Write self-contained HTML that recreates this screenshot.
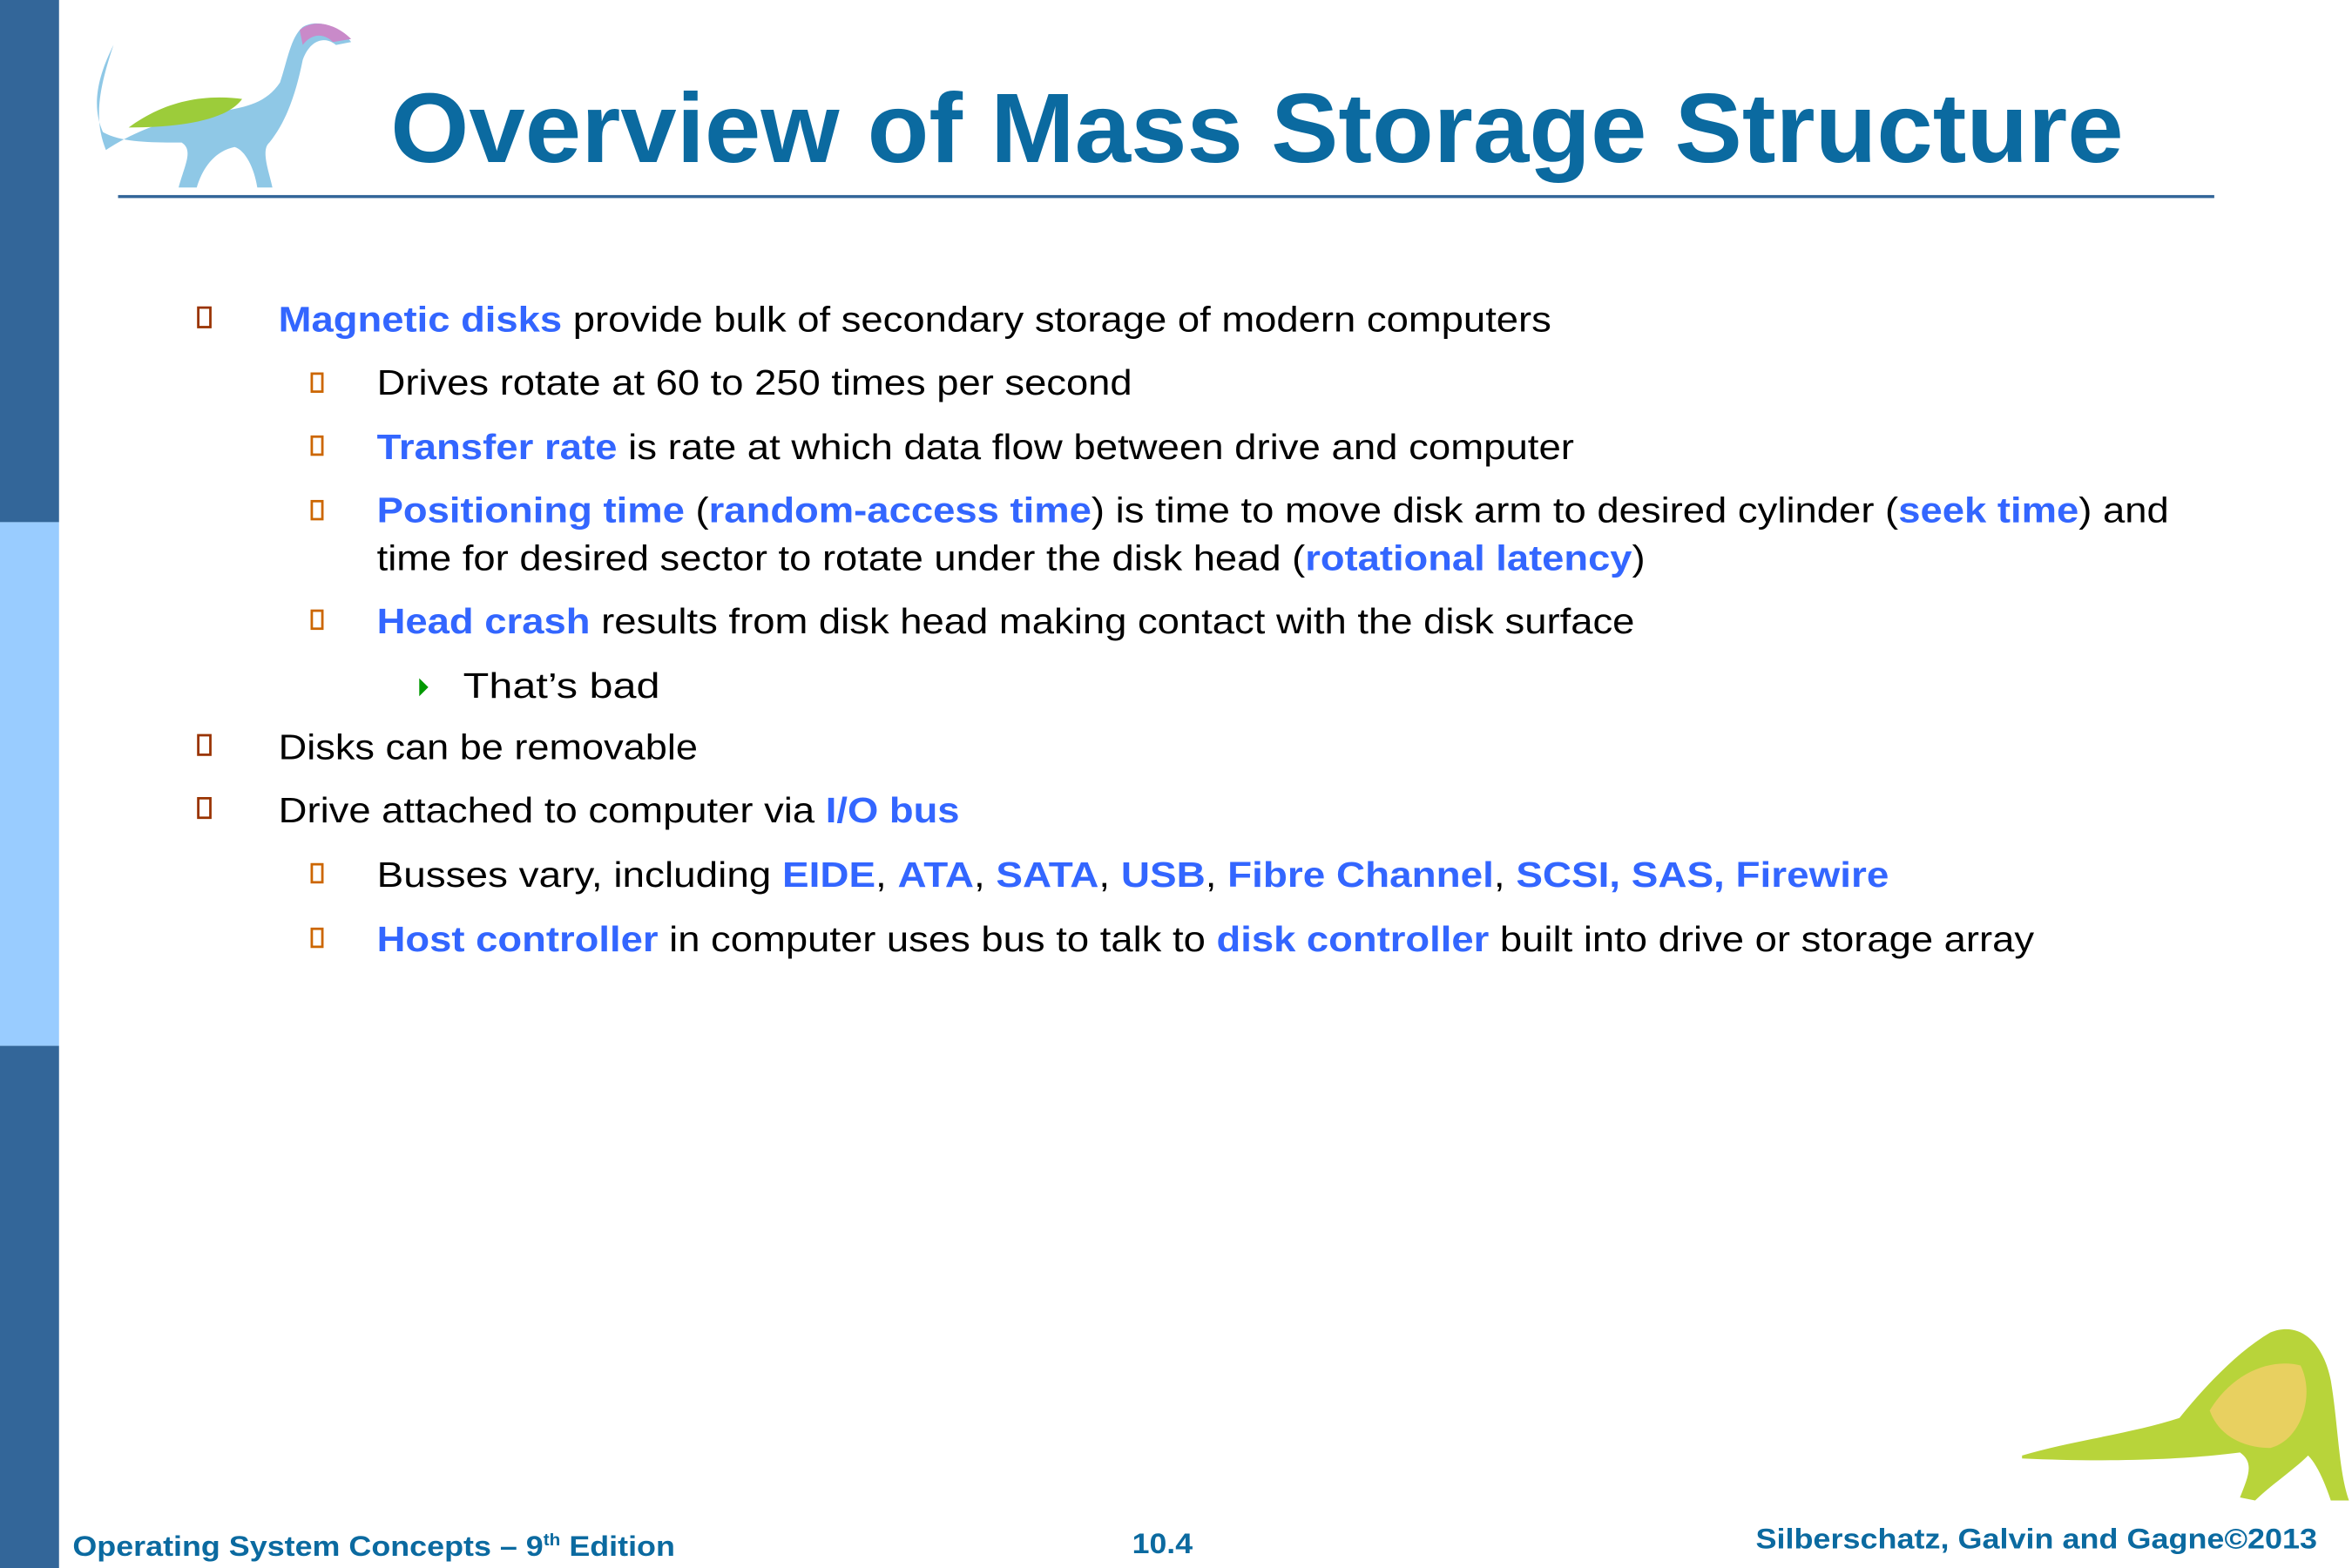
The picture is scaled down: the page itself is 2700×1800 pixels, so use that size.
<!DOCTYPE html>
<html><head><meta charset="utf-8"><style>
html,body{margin:0;padding:0;background:#fff;width:2700px;height:1800px;overflow:hidden}
svg{display:block}
text{font-family:"Liberation Sans",Arial,sans-serif}
.b{fill:#3366ff;font-weight:bold}
.t{font-size:23.5px;fill:#000}
</style></head><body>
<svg width="2700" height="1800" viewBox="0 0 1554 1045" preserveAspectRatio="none">
<rect x="0" y="0" width="39" height="348" fill="#336699"/>
<rect x="0" y="348" width="39" height="349" fill="#99ccff"/>
<rect x="0" y="697" width="39" height="348" fill="#336699"/>
<!-- top dino -->
<g>
<path d="M75 30 C65 60 62 80 70 100 C85 90 110 78 140 75 C160 72 175 70 185 55 C190 40 192 25 200 18 C210 12 225 18 232 28 L222 30 C215 24 205 26 200 40 C196 60 190 80 178 95 C172 100 178 115 180 125 L170 125 C168 112 162 100 155 98 C145 100 135 108 130 125 L118 125 C122 110 128 100 120 95 C100 95 80 95 68 88 C60 70 65 50 75 30 Z" fill="#8fc8e6"/>
<path d="M85 85 C105 70 130 62 160 66 C150 80 120 85 85 85 Z" fill="#9ccc3a"/>
<path d="M198 20 C208 12 222 16 232 26 L220 28 C214 22 206 22 200 30 Z" fill="#c98ac9"/>
</g>
<text x="258" y="108" font-size="66" font-weight="bold" fill="#0b6aa0" textLength="1145" lengthAdjust="spacingAndGlyphs">Overview of Mass Storage Structure</text>
<rect x="78" y="130" width="1385" height="2" fill="#336699"/>
<!-- bullets -->
<g fill="none" stroke-width="1.6">
<rect x="131" y="205" width="8" height="13" stroke="#993300"/>
<rect x="131" y="490" width="8" height="13" stroke="#993300"/>
<rect x="131" y="532" width="8" height="13" stroke="#993300"/>
<g stroke="#cc6600">
<rect x="206" y="249" width="7" height="12"/>
<rect x="206" y="291" width="7" height="12"/>
<rect x="206" y="334" width="7" height="12"/>
<rect x="206" y="407" width="7" height="12"/>
<rect x="206" y="576" width="7" height="12"/>
<rect x="206" y="619" width="7" height="12"/>
</g>
</g>
<path d="M277 452 L283 458 L277 464 Z" fill="#009900"/>
<g class="t">
<text x="184" y="221" textLength="841" lengthAdjust="spacingAndGlyphs"><tspan class="b">Magnetic disks</tspan> provide bulk of secondary storage of modern computers</text>
<text x="249" y="263" textLength="499" lengthAdjust="spacingAndGlyphs">Drives rotate at 60 to 250 times per second</text>
<text x="249" y="306" textLength="791" lengthAdjust="spacingAndGlyphs"><tspan class="b">Transfer rate</tspan> is rate at which data flow between drive and computer</text>
<text x="249" y="348" textLength="1184" lengthAdjust="spacingAndGlyphs"><tspan class="b">Positioning time</tspan> (<tspan class="b">random-access time</tspan>) is time to move disk arm to desired cylinder (<tspan class="b">seek time</tspan>) and</text>
<text x="249" y="380" textLength="838" lengthAdjust="spacingAndGlyphs">time for desired sector to rotate under the disk head (<tspan class="b">rotational latency</tspan>)</text>
<text x="249" y="422" textLength="831" lengthAdjust="spacingAndGlyphs"><tspan class="b">Head crash</tspan> results from disk head making contact with the disk surface</text>
<text x="306" y="465" textLength="130" lengthAdjust="spacingAndGlyphs">That’s bad</text>
<text x="184" y="506" textLength="277" lengthAdjust="spacingAndGlyphs">Disks can be removable</text>
<text x="184" y="548" textLength="450" lengthAdjust="spacingAndGlyphs">Drive attached to computer via <tspan class="b">I/O bus</tspan></text>
<text x="249" y="591" textLength="999" lengthAdjust="spacingAndGlyphs">Busses vary, including <tspan class="b">EIDE</tspan>, <tspan class="b">ATA</tspan>, <tspan class="b">SATA</tspan>, <tspan class="b">USB</tspan>, <tspan class="b">Fibre Channel</tspan>, <tspan class="b">SCSI, SAS, Firewire</tspan></text>
<text x="249" y="634" textLength="1095" lengthAdjust="spacingAndGlyphs"><tspan class="b">Host controller</tspan> in computer uses bus to talk to <tspan class="b">disk controller</tspan> built into drive or storage array</text>
</g>
<!-- bottom dino -->
<g>
<path d="M1336 970 C1370 960 1410 955 1440 945 C1460 920 1480 900 1500 888 C1520 880 1535 895 1540 920 C1545 950 1545 980 1552 1000 L1540 1000 C1535 985 1530 975 1525 970 C1515 980 1500 990 1490 1000 L1480 998 C1485 985 1490 975 1480 968 C1450 972 1400 975 1336 972 Z" fill="#b8d43a"/>
<path d="M1460 940 C1475 915 1500 905 1520 910 C1530 930 1520 960 1500 965 C1480 965 1465 955 1460 940 Z" fill="#e8d060"/>
</g>
<g font-weight="bold" fill="#0b6aa0">
<text x="48" y="1037" font-size="19" textLength="398" lengthAdjust="spacingAndGlyphs">Operating System Concepts – 9<tspan font-size="11" dy="-7">th</tspan><tspan dy="7"> Edition</tspan></text>
<text x="748" y="1035" font-size="19" textLength="40" lengthAdjust="spacingAndGlyphs">10.4</text>
<text x="1160" y="1032" font-size="19" textLength="371" lengthAdjust="spacingAndGlyphs">Silberschatz, Galvin and Gagne©2013</text>
</g>
</svg>
</body></html>
